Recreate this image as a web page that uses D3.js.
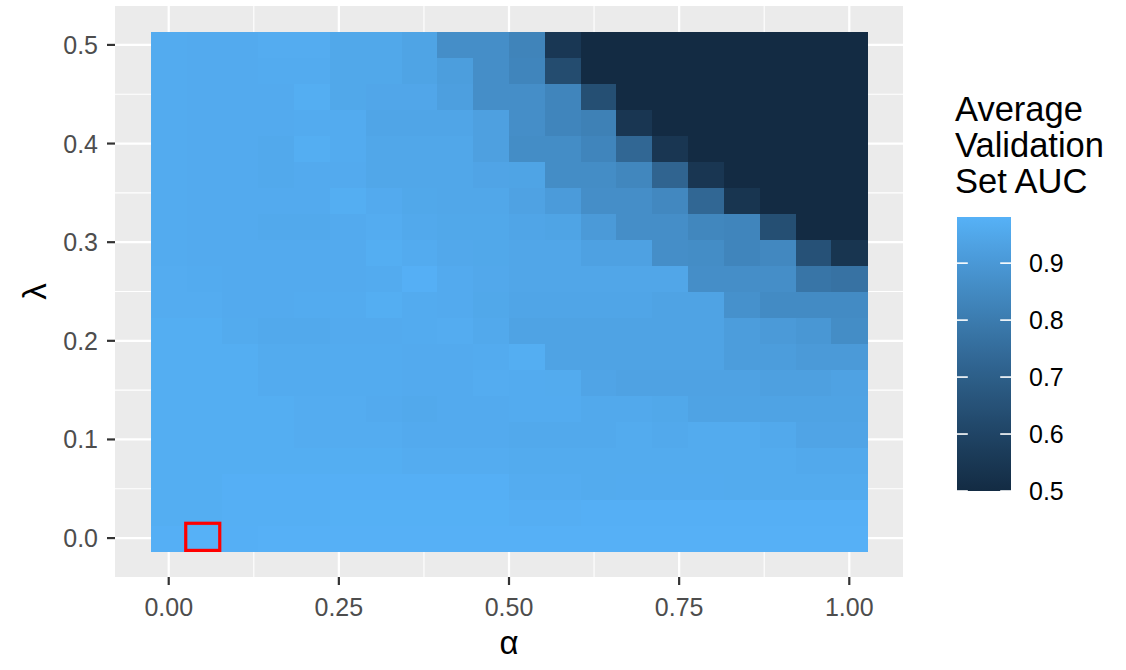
<!DOCTYPE html>
<html>
<head>
<meta charset="utf-8">
<script src="https://cdn.jsdelivr.net/npm/d3@7"></script>
<style>
  html, body { margin: 0; padding: 0; background: #ffffff; }
  svg { display: block; font-family: "Liberation Sans", Arial, sans-serif; }
</style>
</head>
<body>
<svg id="chart" width="1126" height="670"></svg>
<script>
// ---- data ----
const alphaValues = [0, 0.0526, 0.1053, 0.1579, 0.2105, 0.2632, 0.3158, 0.3684, 0.4211, 0.4737,
                     0.5263, 0.5789, 0.6316, 0.6842, 0.7368, 0.7895, 0.8421, 0.8947, 0.9474, 1];
const lambdaValues = [0, 0.0263, 0.0526, 0.0789, 0.1053, 0.1316, 0.1579, 0.1842, 0.2105, 0.2368,
                      0.2632, 0.2895, 0.3158, 0.3421, 0.3684, 0.3947, 0.4211, 0.4474, 0.4737, 0.5];
// rows: one per lambda (bottom to top), columns: one per alpha (left to right)
const aucRows = [
  [0.975,0.981,0.976,0.978,0.978,0.978,0.978,0.978,0.978,0.978,0.978,0.978,0.978,0.978,0.978,0.978,0.978,0.978,0.978,0.978],
  [0.970,0.970,0.974,0.974,0.974,0.977,0.977,0.977,0.977,0.977,0.972,0.972,0.975,0.975,0.975,0.975,0.975,0.975,0.975,0.975],
  [0.970,0.970,0.975,0.975,0.975,0.975,0.975,0.975,0.975,0.975,0.965,0.965,0.960,0.962,0.962,0.962,0.960,0.960,0.960,0.960],
  [0.970,0.970,0.970,0.970,0.970,0.970,0.970,0.965,0.965,0.965,0.960,0.960,0.960,0.960,0.960,0.960,0.960,0.960,0.955,0.955],
  [0.970,0.970,0.970,0.970,0.965,0.965,0.965,0.958,0.958,0.958,0.955,0.955,0.955,0.960,0.955,0.960,0.960,0.955,0.940,0.940],
  [0.970,0.970,0.970,0.970,0.965,0.965,0.958,0.955,0.958,0.958,0.962,0.962,0.955,0.955,0.950,0.935,0.935,0.935,0.935,0.935],
  [0.970,0.970,0.970,0.962,0.962,0.962,0.962,0.958,0.958,0.965,0.962,0.960,0.940,0.932,0.932,0.932,0.932,0.925,0.925,0.932],
  [0.970,0.970,0.970,0.960,0.960,0.962,0.962,0.958,0.958,0.962,0.970,0.935,0.935,0.935,0.935,0.935,0.915,0.915,0.905,0.905],
  [0.970,0.970,0.960,0.955,0.955,0.958,0.958,0.962,0.965,0.955,0.935,0.935,0.935,0.935,0.935,0.935,0.915,0.905,0.895,0.860],
  [0.965,0.965,0.958,0.958,0.962,0.962,0.970,0.962,0.958,0.950,0.942,0.942,0.942,0.942,0.935,0.935,0.875,0.855,0.855,0.855],
  [0.965,0.962,0.958,0.958,0.958,0.958,0.962,0.975,0.958,0.952,0.945,0.945,0.945,0.945,0.945,0.865,0.865,0.865,0.780,0.770],
  [0.962,0.958,0.958,0.958,0.958,0.958,0.970,0.962,0.952,0.950,0.945,0.945,0.930,0.930,0.865,0.860,0.835,0.845,0.650,0.540],
  [0.962,0.958,0.958,0.955,0.955,0.958,0.965,0.955,0.950,0.950,0.942,0.938,0.905,0.865,0.865,0.840,0.835,0.640,0.500,0.500],
  [0.962,0.958,0.958,0.958,0.958,0.970,0.958,0.950,0.948,0.948,0.932,0.910,0.865,0.865,0.845,0.730,0.540,0.500,0.500,0.500],
  [0.962,0.958,0.958,0.955,0.958,0.958,0.948,0.948,0.948,0.940,0.938,0.860,0.860,0.840,0.720,0.545,0.500,0.500,0.500,0.500],
  [0.962,0.958,0.958,0.955,0.970,0.962,0.948,0.948,0.948,0.925,0.860,0.860,0.835,0.730,0.545,0.500,0.500,0.500,0.500,0.500],
  [0.962,0.958,0.958,0.958,0.962,0.962,0.942,0.942,0.942,0.925,0.865,0.835,0.820,0.545,0.500,0.500,0.500,0.500,0.500,0.500],
  [0.962,0.958,0.958,0.958,0.970,0.950,0.946,0.946,0.922,0.865,0.865,0.835,0.640,0.500,0.500,0.500,0.500,0.500,0.500,0.500],
  [0.962,0.958,0.958,0.962,0.962,0.950,0.950,0.938,0.918,0.865,0.835,0.630,0.500,0.500,0.500,0.500,0.500,0.500,0.500,0.500],
  [0.962,0.958,0.958,0.965,0.965,0.950,0.950,0.938,0.865,0.865,0.830,0.550,0.500,0.500,0.500,0.500,0.500,0.500,0.500,0.500]
];
const xTickValues = [0, 0.25, 0.5, 0.75, 1];
const xTickLabels = ["0.00", "0.25", "0.50", "0.75", "1.00"];
const xMinorValues = [0.125, 0.375, 0.625, 0.875];
const yTickValues = [0, 0.1, 0.2, 0.3, 0.4, 0.5];
const yTickLabels = ["0.0", "0.1", "0.2", "0.3", "0.4", "0.5"];
const yMinorValues = [0.05, 0.15, 0.25, 0.35, 0.45];
const legendTickValues = [0.5, 0.6, 0.7, 0.8, 0.9];
const legendTickLabels = ["0.5", "0.6", "0.7", "0.8", "0.9"];
const legendTitleLines = ["Average", "Validation", "Set AUC"];
const highlightAlpha = [0.025, 0.075];
const highlightLambda = [-0.0125, 0.015];
const xTitle = "α";
const yTitle = "λ";

// ---- build cells ----
const cells = [];
aucRows.forEach((row, j) => row.forEach((v, i) => cells.push({ a: alphaValues[i], l: lambdaValues[j], v })));

const svg = d3.select("#chart");
const panel = { left: 115, right: 903, top: 6, bottom: 577 };

const hw = (alphaValues[1] - alphaValues[0]) / 2;
const hh = (lambdaValues[1] - lambdaValues[0]) / 2;
const xLo = alphaValues[0] - hw, xHi = alphaValues[alphaValues.length - 1] + hw;
const yLo = lambdaValues[0] - hh, yHi = lambdaValues[lambdaValues.length - 1] + hh;
const xSpan = xHi - xLo, ySpan = yHi - yLo;

const x = d3.scaleLinear().domain([xLo - 0.05 * xSpan, xHi + 0.05 * xSpan]).range([panel.left, panel.right]);
const y = d3.scaleLinear().domain([yLo - 0.05 * ySpan, yHi + 0.05 * ySpan]).range([panel.bottom, panel.top]);

const vMin = d3.min(cells, d => d.v), vMax = d3.max(cells, d => d.v);
const color = d3.scaleLinear().domain([vMin, vMax]).range(["#132B43", "#56B1F7"]).interpolate(d3.interpolateLab);

// panel background
svg.append("rect").attr("x", panel.left).attr("y", panel.top)
  .attr("width", panel.right - panel.left).attr("height", panel.bottom - panel.top)
  .attr("fill", "#EBEBEB");

// grid
const grid = svg.append("g");
xMinorValues.forEach(v => grid.append("line").attr("x1", x(v)).attr("x2", x(v)).attr("y1", panel.top).attr("y2", panel.bottom).attr("stroke", "#fff").attr("stroke-width", 1.1));
yMinorValues.forEach(v => grid.append("line").attr("y1", y(v)).attr("y2", y(v)).attr("x1", panel.left).attr("x2", panel.right).attr("stroke", "#fff").attr("stroke-width", 1.1));
xTickValues.forEach(v => grid.append("line").attr("x1", x(v)).attr("x2", x(v)).attr("y1", panel.top).attr("y2", panel.bottom).attr("stroke", "#fff").attr("stroke-width", 2.2));
yTickValues.forEach(v => grid.append("line").attr("y1", y(v)).attr("y2", y(v)).attr("x1", panel.left).attr("x2", panel.right).attr("stroke", "#fff").attr("stroke-width", 2.2));

// tiles
svg.append("g").attr("shape-rendering", "crispEdges").selectAll("rect").data(cells).join("rect")
  .attr("x", d => x(d.a - hw))
  .attr("y", d => y(d.l + hh))
  .attr("width", d => x(d.a + hw) - x(d.a - hw) + 0.5)
  .attr("height", d => y(d.l - hh) - y(d.l + hh) + 0.5)
  .attr("fill", d => color(d.v));

// highlight box
svg.append("rect")
  .attr("x", x(highlightAlpha[0])).attr("y", y(highlightLambda[1]))
  .attr("width", x(highlightAlpha[1]) - x(highlightAlpha[0]))
  .attr("height", y(highlightLambda[0]) - y(highlightLambda[1]))
  .attr("fill", "none").attr("stroke", "#FF0000").attr("stroke-width", 3.2);

// axes
const xAxis = svg.append("g");
xTickValues.forEach((v, k) => {
  xAxis.append("line").attr("x1", x(v)).attr("x2", x(v)).attr("y1", panel.bottom).attr("y2", panel.bottom + 8)
    .attr("stroke", "#333333").attr("stroke-width", 2.2);
  xAxis.append("text").attr("x", x(v)).attr("y", 615.5).attr("text-anchor", "middle")
    .attr("font-size", 25).attr("fill", "#4D4D4D").text(xTickLabels[k]);
});
const yAxis = svg.append("g");
yTickValues.forEach((v, k) => {
  yAxis.append("line").attr("x1", panel.left - 8).attr("x2", panel.left).attr("y1", y(v)).attr("y2", y(v))
    .attr("stroke", "#333333").attr("stroke-width", 2.2);
  yAxis.append("text").attr("x", 98).attr("y", y(v)).attr("dy", "0.36em").attr("text-anchor", "end")
    .attr("font-size", 25).attr("fill", "#4D4D4D").text(yTickLabels[k]);
});

svg.append("text").attr("x", (panel.left + panel.right) / 2).attr("y", 654).attr("text-anchor", "middle")
  .attr("font-size", 33).attr("fill", "#000").text(xTitle);
svg.append("text").attr("transform", `translate(46,${(panel.top + panel.bottom) / 2}) rotate(-90)`)
  .attr("text-anchor", "middle").attr("font-size", 33).attr("fill", "#000").text(yTitle);

// legend
const leg = { x: 957, w: 54, top: 217, bottom: 491 };
const ly = d3.scaleLinear().domain([vMin, vMax]).range([leg.bottom, leg.top]);
const defs = svg.append("defs");
const grad = defs.append("linearGradient").attr("id", "legGrad")
  .attr("x1", 0).attr("y1", 1).attr("x2", 0).attr("y2", 0);
d3.range(0, 1.0001, 0.05).forEach(t => {
  grad.append("stop").attr("offset", t).attr("stop-color", color(vMin + t * (vMax - vMin)));
});
svg.append("rect").attr("x", leg.x).attr("y", leg.top).attr("width", leg.w).attr("height", leg.bottom - leg.top)
  .attr("fill", "url(#legGrad)");
legendTickValues.forEach((v, k) => {
  const yy = ly(v);
  svg.append("line").attr("x1", leg.x).attr("x2", leg.x + leg.w / 5).attr("y1", yy).attr("y2", yy)
    .attr("stroke", "#fff").attr("stroke-width", 1.6);
  svg.append("line").attr("x1", leg.x + leg.w - leg.w / 5).attr("x2", leg.x + leg.w).attr("y1", yy).attr("y2", yy)
    .attr("stroke", "#fff").attr("stroke-width", 1.6);
  svg.append("text").attr("x", 1029).attr("y", yy).attr("dy", "0.36em")
    .attr("font-size", 25).attr("fill", "#000").text(legendTickLabels[k]);
});
legendTitleLines.forEach((s, k) => {
  svg.append("text").attr("x", 955).attr("y", 121 + k * 36)
    .attr("font-size", 34.5).attr("fill", "#000").text(s);
});
</script>
</body>
</html>
